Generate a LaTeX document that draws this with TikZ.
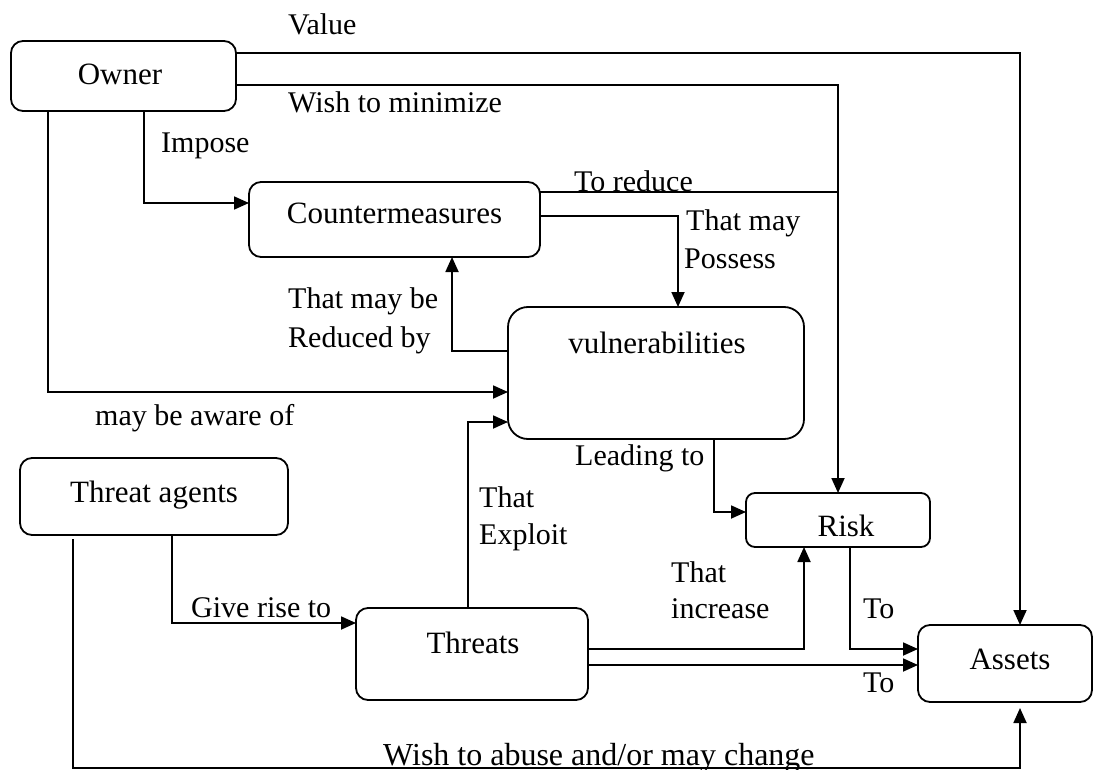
\documentclass[tikz,border=0pt]{standalone}
\usepackage{fontspec}
\setmainfont{Liberation Serif}
\usetikzlibrary{arrows.meta}

\begin{document}
\begin{tikzpicture}[x=1pt, y=-1pt,
  box/.style={draw, line width=1.8pt, rounded corners=12pt, inner sep=0pt, outer sep=0pt},
  ntext/.style={font=\fontsize{31}{36}\selectfont, inner sep=0pt, text height=21pt, text depth=0pt},
  lbl/.style={font=\fontsize{30}{36}\selectfont, inner sep=0pt, anchor=base west},
  link/.style={line width=1.8pt},
  conn/.style={link, -{Triangle[length=15pt, width=13pt]}}
]
\useasboundingbox (0,0) rectangle (1094,770);

% entities
\node[box, minimum width=225, minimum height=70,
      label={[ntext, xshift=-3.5, yshift=1.5]center:Owner}] (owner) at (123.5,76) {};
\node[box, minimum width=291, minimum height=75,
      label={[ntext, yshift=7]center:Countermeasures}] (cm) at (394.5,219.5) {};
\node[box, rounded corners=20pt, minimum width=296, minimum height=132,
      label={[ntext, xshift=1, yshift=30.5]center:vulnerabilities}] (vul) at (656,373) {};
\node[box, minimum width=268, minimum height=77,
      label={[ntext, yshift=5]center:Threat agents}] (ta) at (154,496.5) {};
\node[box, rounded corners=9pt, minimum width=184, minimum height=54,
      label={[ntext, xshift=8, yshift=-5.5]center:Risk}] (risk) at (838,520) {};
\node[box, minimum width=232, minimum height=92,
      label={[ntext, xshift=1, yshift=11.5]center:Threats}] (thr) at (472,654) {};
\node[box, minimum width=174, minimum height=77,
      label={[ntext, xshift=5, yshift=5]center:Assets}] (assets) at (1005,663.5) {};

% bend points of the connectors
\coordinate (vTop) at (1020,53);
\coordinate (mTop) at (838,85);
\coordinate (rJoin) at (838,192);
\coordinate (iBend) at (144,203);
\coordinate (pBend) at (678,216);
\coordinate (bBend) at (452,351);
\coordinate (aBend) at (48,392);
\coordinate (eBend) at (468,422);
\coordinate (lBend) at (714,512);
\coordinate (gBend) at (172,623);
\coordinate (uBend) at (804,649);
\coordinate (tBend) at (850,649);
\coordinate (dRow) at (0,665);
\coordinate (wLeft) at (73,768);
\coordinate (wRight) at (1020,768);

% connectors
\draw[conn] (owner.east |- vTop) -- (vTop) -- (vTop |- assets.north);
\draw[conn] (owner.east |- mTop) -- (mTop) -- (mTop |- risk.north);
\draw[conn] (owner.south -| iBend) -- (iBend) -- (iBend -| cm.west);
\draw[link] (cm.east |- rJoin) -- (rJoin);
\draw[conn] (cm.east |- pBend) -- (pBend) -- (pBend |- vul.north);
\draw[conn] (vul.west |- bBend) -- (bBend) -- (bBend |- cm.south);
\draw[conn] (owner.south -| aBend) -- (aBend) -- (aBend -| vul.west);
\draw[conn] (thr.north -| eBend) -- (eBend) -- (eBend -| vul.west);
\draw[conn] (vul.south -| lBend) -- (lBend) -- (lBend -| risk.west);
\draw[conn] (ta.south -| gBend) -- (gBend) -- (gBend -| thr.west);
\draw[conn] (thr.east |- uBend) -- (uBend) -- (uBend |- risk.south);
\draw[conn] (risk.south -| tBend) -- (tBend) -- (tBend -| assets.west);
\draw[conn] (thr.east |- dRow) -- (dRow -| assets.west);
\draw[conn, shorten <=4pt, shorten >=6pt] (ta.south -| wLeft) -- (wLeft) -- (wRight) -- (wRight |- assets.south);

% connector labels
\node[lbl] (tValue) at (288,35) {Value};
\node[lbl] (tMin) at (288,113) {Wish to minimize};
\node[lbl] (tImpose) at (161,153) {Impose};
\node[lbl] (tReduce) at (574,191) {To reduce};
\node[lbl] (tPoss1) at (686,230) {That may};
\node[lbl] (tPoss2) at (684,268) {Possess};
\node[lbl] (tRed1) at (288,308) {That may be};
\node[lbl] (tRed2) at (288,347) {Reduced by};
\node[lbl] (tAware) at (95,425) {may be aware of};
\node[lbl] (tExp1) at (479,507) {That};
\node[lbl] (tExp2) at (479,544) {Exploit};
\node[lbl] (tLead) at (575,465) {Leading to};
\node[lbl] (tGive) at (191,617) {Give rise to};
\node[lbl] (tInc1) at (671,582) {That};
\node[lbl] (tInc2) at (671,618) {increase};
\node[lbl] (tTo1) at (863,618) {To};
\node[lbl] (tTo2) at (863,692) {To};
\node[lbl, font=\fontsize{32}{36}\selectfont] (tAbuse) at (383,765) {Wish to abuse and/or may change};
\end{tikzpicture}
\end{document}
